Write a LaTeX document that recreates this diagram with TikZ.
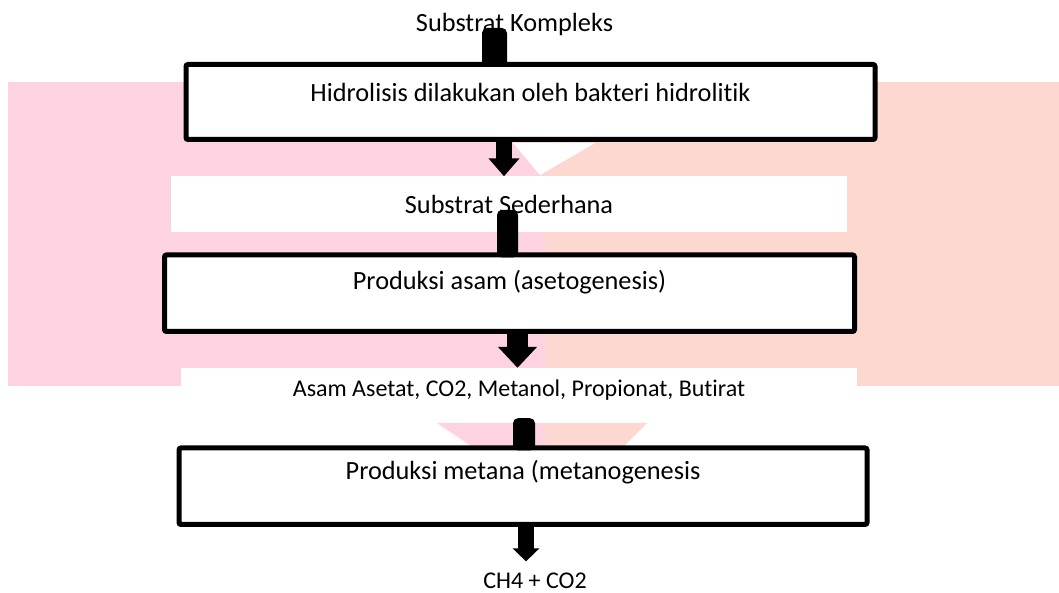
\documentclass[tikz,border=0pt]{standalone}
\usepackage{fontspec}
\setmainfont{Carlito}[Ligatures=NoCommon]
\usetikzlibrary{arrows.meta,calc}

\definecolor{wmpink}{RGB}{253,211,225}
\definecolor{wmpeach}{RGB}{253,216,208}

\tikzset{
  bigtext/.style={font=\fontsize{26.3}{31}\selectfont},
  smalltext/.style={font=\fontsize{24}{29}\selectfont},
  procbox/.style={draw, line width=5pt, fill=white, rounded corners=2pt, text height=18pt, bigtext},
  whitebox/.style={fill=white, inner sep=0pt, minimum width=676pt}
}

\begin{document}
\begin{tikzpicture}[x=1pt,y=1pt]

\useasboundingbox (0,0) rectangle (1059,593);

% Watermark
\fill[wmpink] (8,207) rectangle (545,511);
\fill[wmpeach] (545,207) rectangle (1059,511);
\fill[white] (513,450) -- (595,450) -- (540,418) -- cycle;
\fill[wmpink] (437,170) -- (545,170) -- (545,147) -- (471,147) -- cycle;
\fill[wmpeach] (545,170) -- (647,170) -- (624,147) -- (545,147) -- cycle;

% Labels
\node[bigtext, anchor=base] (kompleks) at (514.5,561) {Substrat Kompleks};
\node[whitebox, bigtext, minimum height=56pt] (sederhana) at (509,388.5) {Substrat Sederhana};
\node[whitebox, smalltext, minimum height=45pt] (asam) at (519,202.5) {Asam Asetat, CO2, Metanol, Propionat, Butirat};
\node[smalltext, anchor=base] (ch4) at (535,4.5) {CH4 + CO2};

% Stages
\node[procbox, minimum width=689pt, minimum height=75pt, text depth=19pt] (hidro) at (530.5,491) {Hidrolisis dilakukan oleh bakteri hidrolitik};
\node[procbox, minimum width=690pt, minimum height=76.5pt, text depth=24.5pt] (prodasam) at (509.5,299.75) {Produksi asam (asetogenesis)};
\node[procbox, minimum width=688pt, minimum height=76.5pt, text depth=30.5pt] (prodmetana) at (523,106.75) {Produksi metana (metanogenesis};

% Arrows
\fill[rounded corners=5pt] ($(kompleks.base)+(-32.5,4)$) rectangle ($(kompleks.base |- hidro.north)+(-7.5,-5)$);
\draw[line width=16pt, -{Triangle[width=30pt,length=18pt]}] ($(hidro.south)+(-26.5,0)$) -- ($(hidro.south |- sederhana.north)+(-26.5,0)$);
\fill[rounded corners=5pt] ($(sederhana.center)+(-12,-5.5)$) rectangle ($(sederhana.center |- prodasam.north)+(9,-5)$);
\draw[line width=21pt, -{Triangle[width=38pt,length=21pt]}] ($(prodasam.south)+(8,0)$) -- ($(prodasam.south |- asam.north)+(8,0)$);
\fill[rounded corners=5pt] ($(asam.south)+(-6,-5)$) rectangle ($(asam.south |- prodmetana.north)+(16,-5)$);
\draw[line width=16pt, -{Triangle[width=26pt,length=13pt]}] ($(prodmetana.south)+(3,0)$) -- ($(prodmetana.south |- ch4.north)+(3,8)$);

\end{tikzpicture}
\end{document}
